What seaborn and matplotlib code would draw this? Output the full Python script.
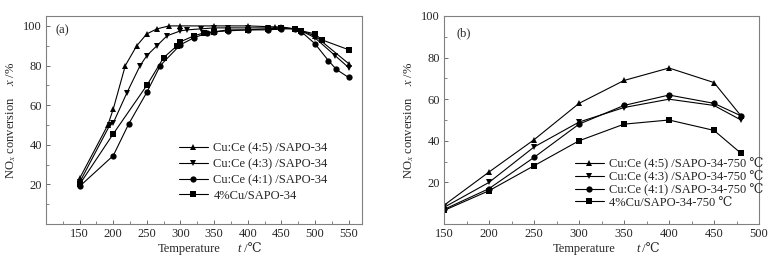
import numpy as np
import pandas as pd
import matplotlib
matplotlib.use("Agg")
import matplotlib.pyplot as plt
import seaborn as sns
from matplotlib.ticker import MultipleLocator

# ---------------- data: panel (a) ----------------
a_labels = ["Cu:Ce (4:5) /SAPO-34", "Cu:Ce (4:3) /SAPO-34",
            "Cu:Ce (4:1) /SAPO-34", "4%Cu/SAPO-34"]
a45_T = [150, 192, 200, 218, 235, 250, 265, 283, 300, 350, 400, 440, 450, 470, 480, 500, 550]
a45_v = [23, 50, 58, 80, 90, 96, 98.5, 100, 100, 100, 100, 99.5, 99.5, 98.5, 97.5, 95, 81]
a43_T = [150, 195, 200, 220, 240, 250, 265, 280, 300, 310, 330, 350, 370, 400, 430, 450, 470, 480, 500, 530, 550]
a43_v = [21, 50, 51, 66, 80, 85, 90, 95, 97.5, 98, 98.5, 99, 99, 99, 99, 99, 98.5, 97.5, 94, 85, 79]
a41_T = [150, 200, 223, 250, 270, 300, 320, 340, 350, 370, 400, 430, 450, 470, 480, 500, 520, 532, 550]
a41_v = [19, 34.5, 50.5, 66.5, 80, 90.5, 94, 96.5, 97, 97.5, 98, 98, 98.5, 98.5, 97, 91, 82.5, 78, 74]
a4_T = [150, 200, 250, 275, 295, 300, 320, 335, 350, 370, 400, 430, 450, 470, 480, 500, 510, 550]
a4_v = [20, 45.5, 70, 84, 90, 92, 95, 96.5, 97, 98, 98, 98.5, 99, 98.5, 97.5, 96, 93, 88]

# ---------------- data: panel (b) ----------------
b_labels = ["Cu:Ce (4:5) /SAPO-34-750 \u2103", "Cu:Ce (4:3) /SAPO-34-750 \u2103",
            "Cu:Ce (4:1) /SAPO-34-750 \u2103", "4%Cu/SAPO-34-750 \u2103"]
b_T = [150, 200, 250, 300, 350, 400, 450, 480]
b45_v = [9, 25, 40.5, 58, 69, 75, 68, 52]
b43_v = [8, 20, 37, 49, 56, 60, 57, 50]
b41_v = [7, 17, 32, 48, 57, 62, 58, 52]
b4_v = [6.5, 16, 28, 40, 48, 50, 45, 34]

sns.set_theme(style="ticks")
plt.rcParams["font.family"] = ["Liberation Serif", "DejaVu Serif"]
plt.rcParams["mathtext.fontset"] = "stix"
plt.rcParams["axes.linewidth"] = 0.8

markers = ["^", "v", "o", "s"]

dfa = pd.concat([
    pd.DataFrame({"T": t, "v": v, "s": lab})
    for t, v, lab in zip([a45_T, a43_T, a41_T, a4_T], [a45_v, a43_v, a41_v, a4_v], a_labels)
])
dfb = pd.concat([
    pd.DataFrame({"T": b_T, "v": v, "s": lab})
    for v, lab in zip([b45_v, b43_v, b41_v, b4_v], b_labels)
])

fig = plt.figure(figsize=(7.8, 2.67), dpi=100)
axa = fig.add_axes([46/780, 43/267, 316/780, 208/267])
axb = fig.add_axes([444/780, 43/267, 315/780, 208/267])

fs = 9
for ax, df, labels in [(axa, dfa, a_labels), (axb, dfb, b_labels)]:
    sns.lineplot(data=df, x="T", y="v", hue="s", style="s", hue_order=labels,
                 style_order=labels, palette=["black"] * 4,
                 markers=dict(zip(labels, markers)), dashes=False,
                 markersize=4.5, linewidth=0.8, markeredgewidth=0,
                 sort=False, estimator=None, ax=ax)
    for sp in ax.spines.values():
        sp.set_color("#808080")
        sp.set_linewidth(0.8)
    ax.tick_params(axis="both", which="major", direction="in", length=3,
                   width=0.6, labelsize=fs, pad=3, color="#555555")
    ax.tick_params(axis="both", which="minor", direction="in", length=2,
                   width=0.5, color="#555555")
    ax.xaxis.set_major_locator(MultipleLocator(50))
    ax.xaxis.set_minor_locator(MultipleLocator(25))
    ax.yaxis.set_major_locator(MultipleLocator(20))
    ax.yaxis.set_minor_locator(MultipleLocator(10))
    ax.set_xlabel("")
    ax.set_ylabel("NO$_x$ conversion    $x$ /%", fontsize=fs, labelpad=4)

def xlabel(ax, xc, xt):
    y = -0.118
    ax.text(xc, y, "Temperature", transform=ax.transAxes, fontsize=fs,
            ha="center", va="center")
    ax.text(xt, y, "t", transform=ax.transAxes, fontsize=fs, style="italic",
            ha="left", va="center")
    ax.annotate(" /\u2103", xy=(xt, y), xycoords="axes fraction",
                xytext=(2.2, 0), textcoords="offset points", fontsize=fs,
                ha="left", va="center")

axa.set_xlim(100, 570)
axa.set_ylim(0, 105)
axa.set_xticks([150, 200, 250, 300, 350, 400, 450, 500, 550])
axa.set_yticks([20, 40, 60, 80, 100])
axa.text(0.03, 0.93, "(a)", transform=axa.transAxes, fontsize=fs, va="center")
axa.legend(frameon=False, fontsize=fs, loc="center left",
           bbox_to_anchor=(0.405, 0.25), handlelength=2.3, labelspacing=0.3,
           handletextpad=0.45, borderaxespad=0)
xlabel(axa, 0.453, 0.606)

axb.set_xlim(150, 500)
axb.set_ylim(0, 100)
axb.set_yticks([20, 40, 60, 80, 100])
axb.text(0.04, 0.915, "(b)", transform=axb.transAxes, fontsize=fs, va="center")
axb.legend(frameon=False, fontsize=fs, loc="center left",
           bbox_to_anchor=(0.40, 0.197), handlelength=2.3, labelspacing=0.03,
           handletextpad=0.45, borderaxespad=0)
xlabel(axb, 0.444, 0.61)

fig.savefig("out.png", dpi=100)
